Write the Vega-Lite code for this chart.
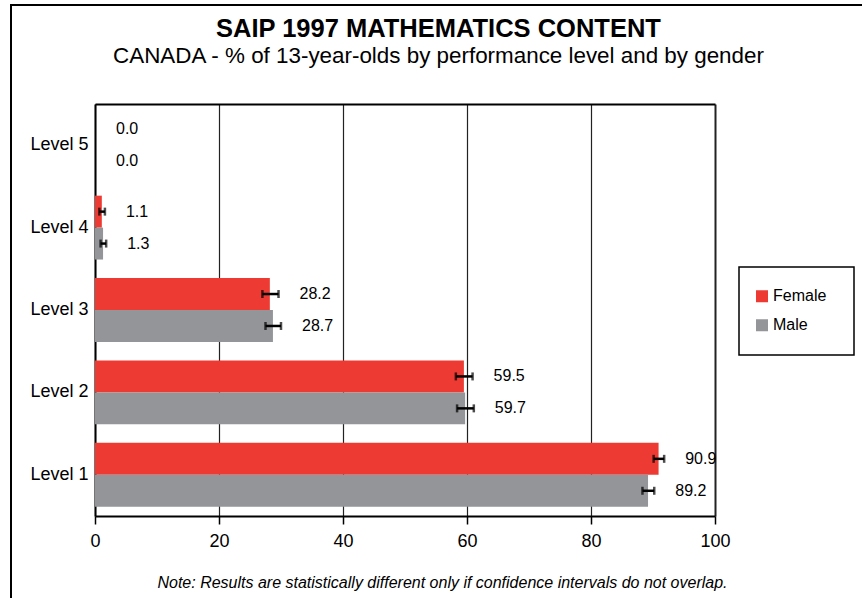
{
  "$schema": "https://vega.github.io/schema/vega-lite/v6.json",
  "width": 855,
  "height": 597,
  "autosize": {"type": "none"},
  "padding": {"left": 11, "top": 5, "right": -4, "bottom": -4},
  "background": "white",
  "title": {
    "text": "SAIP 1997 MATHEMATICS CONTENT",
    "subtitle": "CANADA - % of 13-year-olds by performance level and by gender",
    "anchor": "middle",
    "frame": "group",
    "font": "Liberation Sans",
    "subtitleFont": "Liberation Sans",
    "fontSize": 25.5,
    "fontWeight": "bold",
    "subtitleFontSize": 22.4,
    "color": "black",
    "subtitleColor": "black",
    "subtitlePadding": 2,
    "offset": -62
  },
  "data": {
    "values": [
      {"level": "Level 5", "gender": "Female", "value": 0.0, "lo": 0, "hi": 0},
      {"level": "Level 5", "gender": "Male", "value": 0.0, "lo": 0, "hi": 0},
      {"level": "Level 4", "gender": "Female", "value": 1.1, "lo": 0.7, "hi": 1.6},
      {"level": "Level 4", "gender": "Male", "value": 1.3, "lo": 0.9, "hi": 1.8},
      {"level": "Level 3", "gender": "Female", "value": 28.2, "lo": 27.0, "hi": 29.6},
      {"level": "Level 3", "gender": "Male", "value": 28.7, "lo": 27.5, "hi": 30.0},
      {"level": "Level 2", "gender": "Female", "value": 59.5, "lo": 58.2, "hi": 60.9},
      {"level": "Level 2", "gender": "Male", "value": 59.7, "lo": 58.4, "hi": 61.1},
      {"level": "Level 1", "gender": "Female", "value": 90.9, "lo": 90.1, "hi": 91.8},
      {"level": "Level 1", "gender": "Male", "value": 89.2, "lo": 88.3, "hi": 90.2}
    ]
  },
  "encoding": {
    "y": {
      "field": "level",
      "type": "nominal",
      "sort": ["Level 5", "Level 4", "Level 3", "Level 2", "Level 1"],
      "scale": {"range": [99, 511], "paddingInner": 0, "paddingOuter": 0},
      "axis": {
        "orient": "left",
        "offset": -84,
        "title": null,
        "domainColor": "black",
        "domainWidth": 2,
        "ticks": false,
        "tickSize": 0,
        "labelPadding": 7,
        "labelFontSize": 18,
        "labelColor": "black",
        "labelFont": "Liberation Sans"
      }
    },
    "yOffset": {
      "field": "gender",
      "type": "nominal",
      "sort": ["Female", "Male"],
      "scale": {"paddingOuter": 0.29, "paddingInner": 0}
    }
  },
  "layer": [
    {
      "mark": {"type": "bar"},
      "encoding": {
        "x": {
          "field": "value",
          "type": "quantitative",
          "scale": {"domain": [0, 100], "range": [84, 704], "nice": false},
          "axis": {
            "orient": "bottom",
            "offset": -86,
            "grid": false,
            "values": [0, 20, 40, 60, 80, 100],
            "domainColor": "black",
            "domainWidth": 2,
            "tickColor": "black",
            "tickWidth": 1.5,
            "tickSize": 8,
            "labelFontSize": 18,
            "labelColor": "black",
            "labelFont": "Liberation Sans",
            "labelPadding": 8,
            "labelFlush": false,
            "title": "Note: Results are statistically different only if confidence intervals do not overlap.",
            "titleFont": "Liberation Sans",
            "titleFontStyle": "italic",
            "titleFontWeight": "normal",
            "titleFontSize": 16,
            "titleColor": "black",
            "titleX": 431,
            "titleY": 66,
            "titleAlign": "center",
            "titleBaseline": "middle"
          }
        },
        "color": {
          "field": "gender",
          "type": "nominal",
          "scale": {"domain": ["Female", "Male"], "range": ["#ED3B33", "#939598"]},
          "legend": {
            "title": null,
            "orient": "none",
            "legendX": 728,
            "legendY": 262,
            "strokeColor": "black",
            "fillColor": "white",
            "padding": 15,
            "symbolType": "square",
            "symbolSize": 144,
            "symbolStrokeWidth": 0,
            "clipHeight": 28.5,
            "rowPadding": 0,
            "labelFontSize": 16,
            "labelFont": "Liberation Sans",
            "labelColor": "black",
            "labelOffset": 3,
            "labelExpr": "datum.label + '\u2800'",
            "encode": {"legend": {"update": {"strokeWidth": {"value": 1.5}}}}
          }
        }
      }
    },
    {
      "transform": [{"filter": "datum.value > 0"}],
      "mark": {"type": "rule", "color": "black", "strokeWidth": 2.5},
      "encoding": {
        "x": {
          "field": "lo",
          "type": "quantitative",
          "axis": {
            "orient": "top",
            "offset": -99,
            "grid": true,
            "values": [0, 20, 40, 60, 80, 100],
            "gridColor": "#222222",
            "gridWidth": {"condition": {"test": "datum.value === 100", "value": 2}, "value": 1.2},
            "domain": true,
            "domainColor": "black",
            "domainWidth": 2,
            "labels": false,
            "ticks": false,
            "title": null
          }
        },
        "x2": {"field": "hi"}
      }
    },
    {
      "transform": [{"filter": "datum.value > 0"}],
      "mark": {"type": "tick", "color": "black", "orient": "vertical", "size": 8, "thickness": 2.5},
      "encoding": {
        "x": {"field": "lo", "type": "quantitative", "axis": null}
      }
    },
    {
      "transform": [{"filter": "datum.value > 0"}],
      "mark": {"type": "tick", "color": "black", "orient": "vertical", "size": 8, "thickness": 2.5},
      "encoding": {
        "x": {"field": "hi", "type": "quantitative", "axis": null}
      }
    },
    {
      "mark": {"type": "text", "align": "left", "baseline": "middle", "dx": 21, "fontSize": 16, "font": "Liberation Sans", "color": "black"},
      "encoding": {
        "x": {"field": "hi", "type": "quantitative", "axis": null},
        "text": {"field": "value", "type": "quantitative", "format": ".1f"}
      }
    }
  ],
  "resolve": {"axis": {"x": "independent"}},
  "config": {
    "font": "Liberation Sans",
    "view": {"stroke": "black", "strokeWidth": 2}
  }
}
